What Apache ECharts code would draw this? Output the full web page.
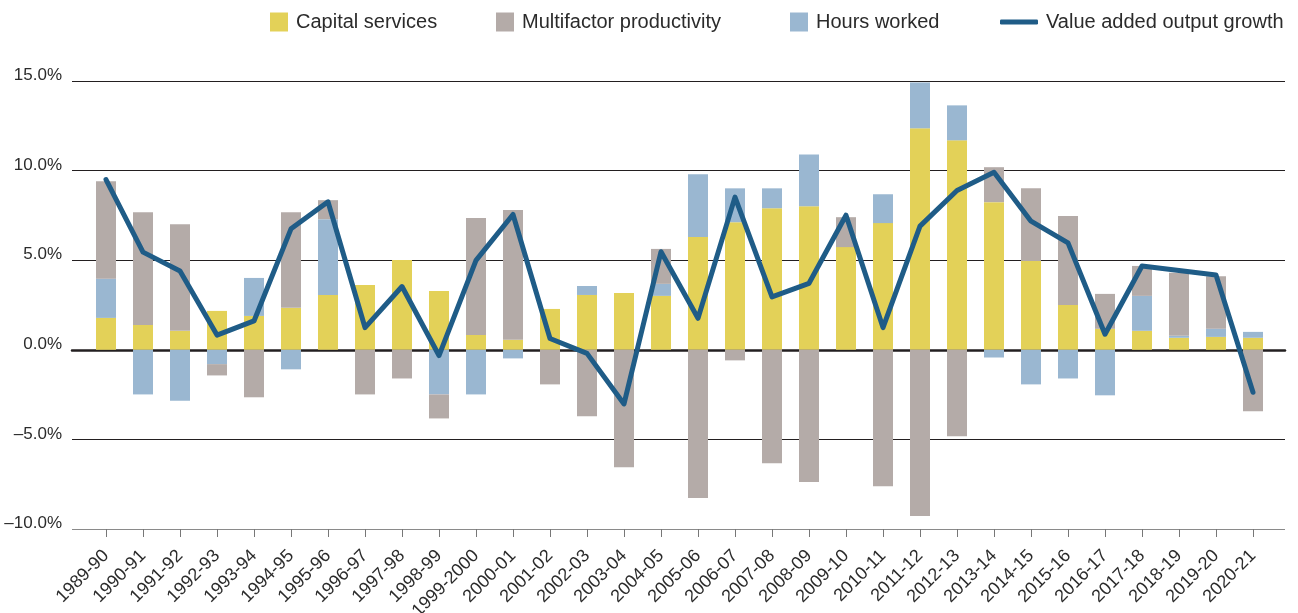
<!DOCTYPE html>
<html>
<head>
<meta charset="utf-8">
<script src="https://cdn.jsdelivr.net/npm/echarts@6/dist/echarts.min.js"></script>
<style>
  html, body { margin: 0; padding: 0; background: #fff; }
  #main { width: 1298px; height: 613px; }
</style>
</head>
<body>
<div id="main"></div>
<script>
var years = ["1989-90","1990-91","1991-92","1992-93","1993-94","1994-95","1995-96","1996-97","1997-98","1998-99",
  "1999-2000","2000-01","2001-02","2002-03","2003-04","2004-05","2005-06","2006-07","2007-08","2008-09",
  "2009-10","2010-11","2011-12","2012-13","2013-14","2014-15","2015-16","2016-17","2017-18","2018-19",
  "2019-20","2020-21"];
// contributions (percentage points)
var capital = [1.78,1.39,1.06,2.17,1.89,2.34,3.06,3.62,5.01,3.28,
  0.83,0.56,2.28,3.06,3.17,3.01,6.29,7.12,7.90,8.01,
  5.73,7.07,12.36,11.69,8.24,4.95,2.50,1.17,1.06,0.67,
  0.72,0.67];
var hours = [2.19,-2.49,-2.84,-0.80,2.12,-1.09,4.23,0,0,-2.49,
  -2.49,-0.48,0,0.50,0,0.67,3.51,1.89,1.11,2.89,
  0,1.61,2.56,1.95,-0.43,-1.93,-1.60,-2.54,1.95,0.11,
  0.46,0.33];
var mfp = [5.44,6.29,5.95,-0.63,-2.65,5.34,1.06,-2.49,-1.60,-1.34,
  6.52,7.24,-1.93,-3.71,-6.55,1.95,-8.27,-0.59,-6.33,-7.38,
  1.67,-7.61,-9.28,-4.82,1.95,4.07,4.96,1.95,1.67,3.52,
  2.93,-3.43];
var output = [9.50,5.45,4.40,0.82,1.61,6.75,8.26,1.24,3.53,-0.32,
  4.99,7.55,0.63,-0.20,-3.02,5.47,1.76,8.52,2.95,3.71,
  7.51,1.24,6.90,8.89,9.91,7.18,5.97,0.87,4.68,4.43,
  4.17,-2.37];

var font = "Liberation Sans";
var txt = '#2b2b2b';

// one legend per item so each sits where it does in the original
function legendItem(name, left, w, h, top, icon) {
  return {
    left: left, top: top,
    itemWidth: w, itemHeight: h,
    icon: icon,
    textStyle: { fontSize: 20, color: txt, fontFamily: font, padding: [0, 0, 0, 3] },
    data: [name]
  };
}

var myChart = echarts.init(document.getElementById('main'));
var option = {
  animation: false,
  textStyle: { fontFamily: font },
  legend: [
    legendItem('Capital services', 265, 18, 19, 7, 'rect'),
    legendItem('Multifactor productivity', 491, 18, 19, 7, 'rect'),
    legendItem('Hours worked', 785, 18, 19, 7, 'rect'),
    legendItem('Value added output growth', 995, 38, 5, 7, 'roundRect')
  ],
  grid: [
    { left: 72, right: 13, top: 81, bottom: 84, outerBoundsMode: 'none' },   // wide grid: gridlines + y labels
    { left: 87.5, right: 26.5, top: 81, bottom: 84, outerBoundsMode: 'none' } // bars
  ],
  xAxis: [{
    gridIndex: 0, type: 'value', min: 0, max: 1,
    axisLine: { show: true, onZero: true, lineStyle: { color: '#231f20', width: 2.5 } },
    axisTick: { show: false }, axisLabel: { show: false }, splitLine: { show: false }
  }, {
    gridIndex: 1, type: 'category', data: years,
    axisLine: { show: false, onZero: false },
    axisTick: { show: true, alignWithLabel: true, length: 8, lineStyle: { color: '#777', width: 1 } },
    axisLabel: { rotate: 45, interval: 0, fontSize: 18, color: txt, margin: 24, fontFamily: font },
    splitLine: { show: false }
  }],
  yAxis: [{
    gridIndex: 0, type: 'value', min: -10, max: 15, interval: 5,
    axisLine: { show: false }, axisTick: { show: false },
    axisLabel: {
      fontSize: 17, color: txt, margin: 10, verticalAlign: 'bottom', padding: [0, 0, -3, 0], fontFamily: font,
      formatter: function (v) { return (v < 0 ? '\u2013' : '') + Math.abs(v).toFixed(1) + '%'; }
    },
    splitLine: { lineStyle: { color: ['#8a8a8a', '#231f20', '#231f20', '#231f20', '#231f20', '#231f20'], width: 1.2 } }
  }, {
    gridIndex: 1, type: 'value', min: -10, max: 15, interval: 5,
    axisLine: { show: false }, axisTick: { show: false }, axisLabel: { show: false }, splitLine: { show: false }
  }],
  series: [
    { name: 'Capital services', type: 'bar', stack: 'c', xAxisIndex: 1, yAxisIndex: 1,
      barWidth: 20, itemStyle: { color: '#e3d158' }, data: capital },
    { name: 'Hours worked', type: 'bar', stack: 'c', xAxisIndex: 1, yAxisIndex: 1,
      barWidth: 20, itemStyle: { color: '#9ab7d1' }, data: hours },
    { name: 'Multifactor productivity', type: 'bar', stack: 'c', xAxisIndex: 1, yAxisIndex: 1,
      barWidth: 20, itemStyle: { color: '#b4aba8' }, data: mfp },
    { name: 'Value added output growth', type: 'line', xAxisIndex: 1, yAxisIndex: 1,
      showSymbol: false, symbol: 'none',
      lineStyle: { color: '#1f5c87', width: 5, cap: 'round', join: 'round' },
      itemStyle: { color: '#1f5c87' }, data: output, z: 5 }
  ]
};
myChart.setOption(option);
</script>
</body>
</html>
